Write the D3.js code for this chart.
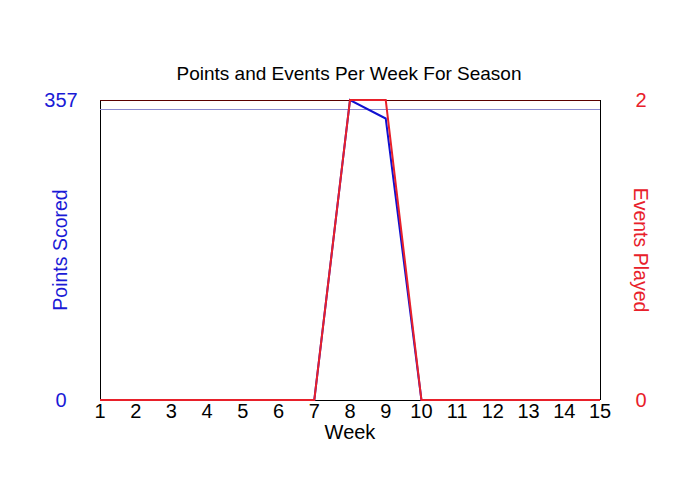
<!DOCTYPE html>
<html>
  <head>
    <meta charset="UTF-8">
    <title>Points and Events Per Week</title>
    <script src="https://d3js.org/d3.v7.min.js"></script>
    <style>
      body { margin: 0; background: #fff; }
      text { font-family: "Liberation Sans", Arial, sans-serif; }
    </style>
  </head>
  <body>
    <svg width="700" height="500"></svg>
    <script>
      // Data
      var weeks = [1, 2, 3, 4, 5, 6, 7, 8, 9, 10, 11, 12, 13, 14, 15];
      var points = [0, 0, 0, 0, 0, 0, 0, 357, 335, 0, 0, 0, 0, 0, 0];
      var events = [0, 0, 0, 0, 0, 0, 0, 2, 2, 0, 0, 0, 0, 0, 0];
      var pointsTicks = [0, 357];
      var eventsTicks = [0, 2];
      var refLine = 346;

      var svg = d3.select("svg"),
          margin = {top: 100, right: 100, bottom: 100, left: 100},
          width = 700 - margin.left - margin.right,
          height = 500 - margin.top - margin.bottom,
          g = svg.append("g").attr("transform", "translate(" + margin.left + "," + margin.top + ")");

      var x = d3.scaleLinear().domain([1, 15]).range([0, width]);
      var yLeft = d3.scaleLinear().domain([0, 357]).range([height, 0]);
      var yRight = d3.scaleLinear().domain([0, 2]).range([height, 0]);

      // frame
      var frame = g.append("g").attr("shape-rendering", "crispEdges");
      frame.append("line").attr("x1", 0).attr("x2", 0).attr("y1", 0).attr("y2", height)
          .attr("stroke", "#000");
      frame.append("line").attr("x1", width).attr("x2", width).attr("y1", 0).attr("y2", height)
          .attr("stroke", "#000");
      frame.append("line").attr("x1", 0).attr("x2", width).attr("y1", height).attr("y2", height)
          .attr("stroke", "#000");
      frame.append("line").attr("x1", 0).attr("x2", width).attr("y1", 0).attr("y2", 0)
          .attr("stroke", "#5a0000");

      // reference line
      frame.append("line")
          .attr("x1", 0).attr("x2", width)
          .attr("y1", yLeft(refLine)).attr("y2", yLeft(refLine))
          .attr("stroke", "#8a8ad0");

      // x axis labels
      g.append("g").selectAll("text")
          .data(weeks)
        .enter().append("text")
          .attr("x", function(d) { return x(d); })
          .attr("y", height + 18)
          .attr("text-anchor", "middle")
          .attr("font-size", 20)
          .attr("fill", "#000")
          .text(function(d) { return d; });

      g.append("text")
          .attr("x", width / 2)
          .attr("y", height + 39)
          .attr("text-anchor", "middle")
          .attr("font-size", 20)
          .text("Week");

      // left axis labels
      g.append("g").selectAll("text")
          .data(pointsTicks)
        .enter().append("text")
          .attr("x", -39)
          .attr("y", function(d) { return yLeft(d) + 7; })
          .attr("text-anchor", "middle")
          .attr("font-size", 20)
          .attr("fill", "#1a1ad6")
          .text(function(d) { return d; });

      // right axis labels
      g.append("g").selectAll("text")
          .data(eventsTicks)
        .enter().append("text")
          .attr("x", width + 41)
          .attr("y", function(d) { return yRight(d) + 7; })
          .attr("text-anchor", "middle")
          .attr("font-size", 20)
          .attr("fill", "#e8202a")
          .text(function(d) { return d; });

      // axis titles
      g.append("text")
          .attr("transform", "translate(-33," + (height / 2) + ") rotate(-90)")
          .attr("text-anchor", "middle")
          .attr("font-size", 19.5)
          .attr("fill", "#1a1ad6")
          .text("Points Scored");

      g.append("text")
          .attr("transform", "translate(" + (width + 34) + "," + (height / 2) + ") rotate(90)")
          .attr("text-anchor", "middle")
          .attr("font-size", 19.5)
          .attr("fill", "#e8202a")
          .text("Events Played");

      // title
      svg.append("text")
          .attr("x", 349)
          .attr("y", 80)
          .attr("text-anchor", "middle")
          .attr("font-size", 19)
          .text("Points and Events Per Week For Season");

      // lines
      var pointsLine = d3.line()
          .x(function(d, i) { return x(weeks[i]); })
          .y(function(d) { return yLeft(d); });
      var eventsLine = d3.line()
          .x(function(d, i) { return x(weeks[i]); })
          .y(function(d) { return yRight(d); });

      g.append("path")
          .datum(points)
          .attr("fill", "none")
          .attr("stroke", "#1010d0")
          .attr("stroke-width", 2)
          .attr("d", pointsLine);

      g.append("path")
          .datum(events)
          .attr("fill", "none")
          .attr("stroke", "#e8202a")
          .attr("stroke-width", 2)
          .attr("d", eventsLine);
    </script>
  </body>
</html>
